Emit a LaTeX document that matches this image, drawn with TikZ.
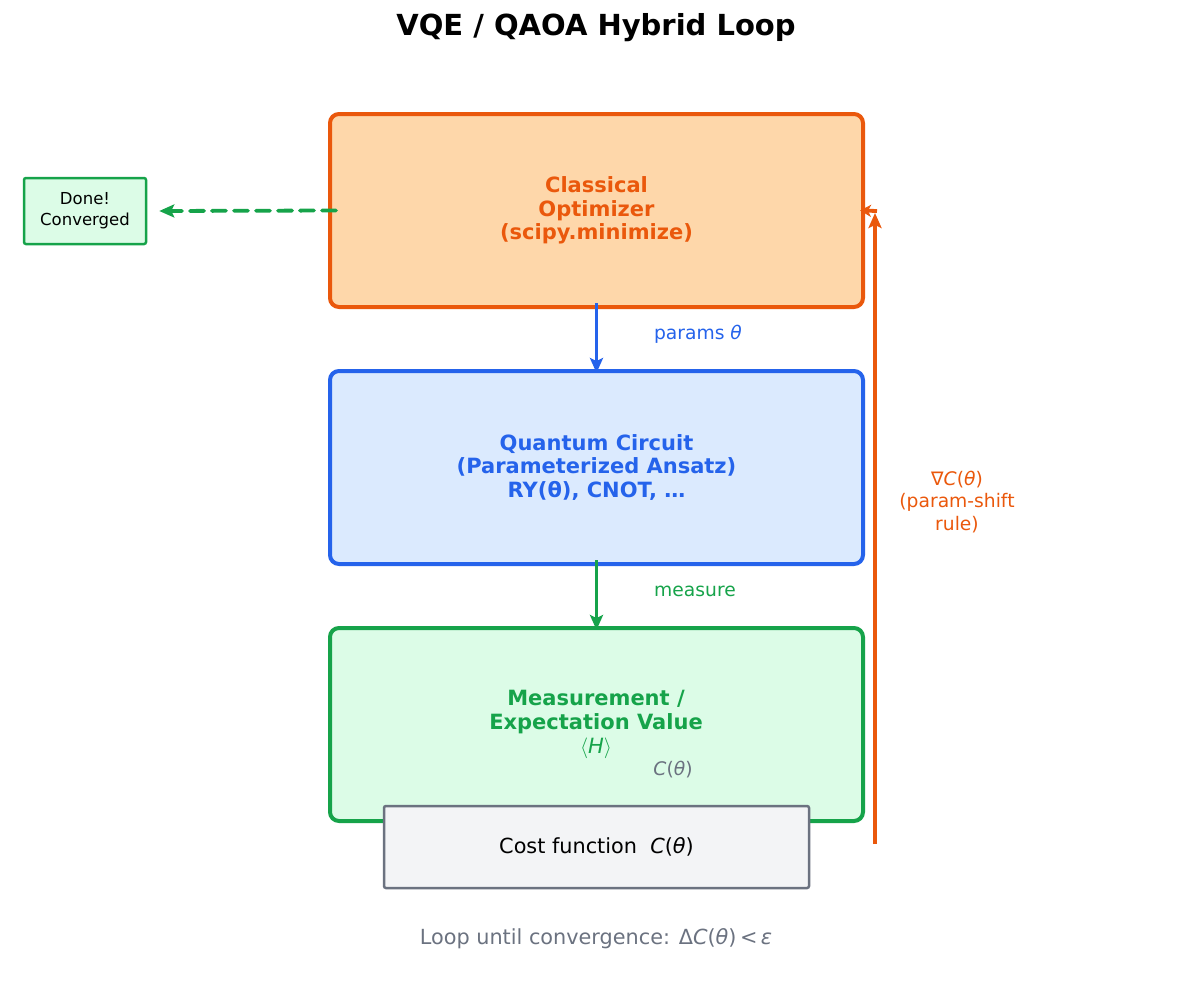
\documentclass[tikz,border=0pt]{standalone}
\usepackage{fontspec}
\setmainfont{DejaVu Sans}
\usetikzlibrary{arrows.meta}
\definecolor{orgD}{HTML}{EA580C}
\definecolor{orgL}{HTML}{FED7AA}
\definecolor{bluD}{HTML}{2563EB}
\definecolor{bluL}{HTML}{DBEAFE}
\definecolor{grnD}{HTML}{16A34A}
\definecolor{grnL}{HTML}{DCFCE7}
\definecolor{gryD}{HTML}{6B7280}
\definecolor{gryL}{HTML}{F3F4F6}
\newcommand{\ital}[1]{{\itshape #1}}
\begin{document}
\begin{tikzpicture}[x=1pt,y=-1pt,
  bigbox/.style={draw, line width=4pt, rounded corners=9pt, minimum width=533pt, minimum height=193pt, align=center, inner sep=0pt},
  boxtext/.style={font=\fontsize{21}{23.3}\selectfont\bfseries},
  lbl/.style={font=\fontsize{18.7}{22.5}\selectfont, align=center},
  arr/.style={line width=3.8pt, -{Stealth[length=15pt,width=13pt,inset=3pt]}},
]
\useasboundingbox (0,0) rectangle (1192,996);
\node (title) at (596,28) {\fontsize{29}{33}\selectfont\bfseries VQE / QAOA Hybrid Loop};

\node[bigbox, fill=orgL, draw=orgD, text=orgD, boxtext] (opt) at (596.5,210.5) {Classical\\Optimizer\\(scipy.minimize)};
\node[bigbox, fill=bluL, draw=bluD, text=bluD, boxtext] (qc) at (596.5,467.5) {Quantum Circuit\\(Parameterized Ansatz)\\RY(θ), CNOT, …};
\node[bigbox, fill=grnL, draw=grnD] (meas) at (596.5,724.5) {};
\node[text=grnD, boxtext, align=center] (meastxt) at (596,712) {Measurement /\\Expectation Value};
\node[text=grnD, font=\fontsize{21}{23}\selectfont] (hexp) at (596,748) {$\langle$\ital{H}$\rangle$};
\node[text=gryD, font=\fontsize{18.7}{22}\selectfont] (cth) at (673,770) {\ital{C}(\ital{θ})};

\node[draw=gryD, fill=gryL, line width=2.5pt, rounded corners=2pt, minimum width=425pt, minimum height=82pt] (cost) at (596.5,847) {\fontsize{20.8}{24}\selectfont Cost function\ \ \ital{C}(\ital{θ})};

\node[draw=grnD, fill=grnL, line width=2.5pt, rounded corners=2pt, minimum width=122pt, minimum height=66pt, align=center, font=\fontsize{16.5}{21}\selectfont] (done) at (85,211) {Done!\\Converged};

\draw[arr, draw=grnD, dash pattern=on 14pt off 8pt, line cap=round] ([xshift=8pt]opt.west) -- ([xshift=12pt]done.east);

\draw[arr, draw=bluD] ([yshift=6pt]opt.south) -- ([yshift=-4pt]qc.north);
\node[lbl, text=bluD] (plbl) at (698,334) {params \ital{θ}};

\draw[arr, draw=grnD] ([yshift=6pt]qc.south) -- ([yshift=-4pt]meas.north);
\node[lbl, text=grnD] (mlbl) at (695,591) {measure};

\coordinate (gs) at (875,844);
\coordinate (ge) at (875,213);
\coordinate (gh) at (877,211);
\draw[arr, draw=orgD] (gs) -- (ge);
\draw[line width=3.8pt, draw=orgD, -{Stealth[length=11pt,width=12pt,inset=3pt]}] (gh) -- ([xshift=-5pt]opt.east);
\node[lbl, text=orgD] (glbl) at (957,502) {∇\ital{C}(\ital{θ})\\(param-shift\\rule)};

\node[text=gryD, font=\fontsize{20.8}{24}\selectfont] (loop) at (596,939) {Loop until convergence: Δ\ital{C}(\ital{θ})\,<\,\ital{ε}};
\end{tikzpicture}
\end{document}
